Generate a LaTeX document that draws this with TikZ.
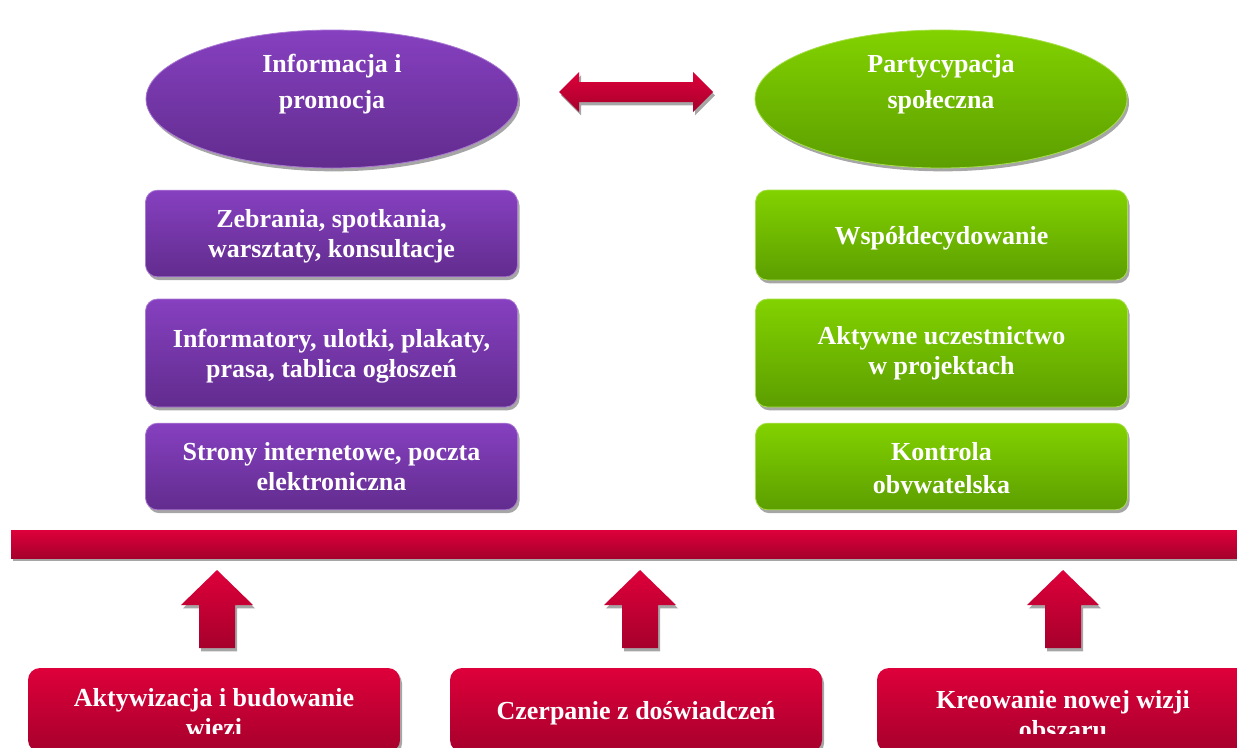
\documentclass[tikz,border=0pt]{standalone}
\usepackage{fontspec}
\setmainfont{Liberation Serif}
\usetikzlibrary{shapes.geometric,shadows}
\definecolor{violtop}{RGB}{134,64,192}
\definecolor{violbot}{RGB}{98,44,142}
\definecolor{leaftop}{RGB}{130,210,0}
\definecolor{leafbot}{RGB}{92,158,0}
\definecolor{redtop}{RGB}{222,0,58}
\definecolor{redbot}{RGB}{166,0,44}
\tikzset{
  cast/.style={general shadow={fill=black!35, shadow xshift=1.5pt, shadow yshift=-2.5pt}},
  violet/.style={top color=violtop, bottom color=violbot, draw=violtop!70!white, line width=.6pt},
  leaf/.style={top color=leaftop, bottom color=leafbot, draw=leaftop!70!white, line width=.6pt},
  crimson/.style={top color=redtop, bottom color=redbot},
  oval/.style={ellipse, cast, minimum width=279pt, minimum height=103.5pt, inner sep=0pt},
  tile/.style={rectangle, rounded corners=9pt, cast, minimum width=279pt, inner sep=0pt},
  lbl/.style={text=white, align=center, font=\bfseries\fontsize{19.5}{22.5}\selectfont},
  ovallbl/.style={lbl, font=\bfseries\fontsize{19.5}{27}\selectfont}
}
\begin{document}
\begin{tikzpicture}[x=.75pt, y=-.75pt]
  \useasboundingbox (0,0) rectangle (1237,747);
  \clip (0,0) rectangle (1237,747);

  \node[oval, violet] (info) at (332,99) {};
  \node[ovallbl] (infotxt) at (332,84) {Informacja i\\promocja};
  \node[oval, leaf] (part) at (941,99) {};
  \node[ovallbl] (parttxt) at (941,84) {Partycypacja\\społeczna};
  \coordinate (linkl) at (559,92);
  \coordinate (linkr) at (713,92);
  \path[crimson, cast] (linkl) -- ++(20,-20) -- ++(0,10) -- ++(114,0) -- ++(0,-10) -- (linkr)
    -- ++(-20,20) -- ++(0,-10) -- ++(-114,0) -- ++(0,10) -- cycle;

  \node[tile, violet, minimum height=65pt, lbl, text depth=0pt] (meet) at (331.5,233.5) {Zebrania, spotkania,\\warsztaty, konsultacje};
  \node[tile, violet, minimum height=81pt, lbl, text depth=0pt] (print) at (331.5,353) {Informatory, ulotki, plakaty,\\prasa, tablica ogłoszeń};
  \node[tile, violet, minimum height=65pt, lbl] (web) at (331.5,466.5) {Strony internetowe, poczta\\elektroniczna};

  \node[tile, leaf, minimum height=67.5pt, lbl, text height=18pt] (codec) at (941.5,235) {Współdecydowanie};
  \node[tile, leaf, minimum height=81pt, lbl] (proj) at (941.5,353) {Aktywne uczestnictwo\\w projektach};
  \node[tile, leaf, minimum height=65pt] (ctrl) at (941.5,466.5) {};
  \begin{scope}
    \clip (740,423) rectangle (1140,493);
    \node[lbl, font=\bfseries\fontsize{19.5}{25}\selectfont] (ctrltxt) at (941.5,471) {Kontrola\\obywatelska};
  \end{scope}

  \node[rectangle, crimson, cast, minimum width=929.25pt, minimum height=21pt, inner sep=0pt] (bar) at (630.5,544) {};

  \foreach \x/\n in {217/1, 640/2, 1063/3} {
    \coordinate (up\n) at (\x,570);
    \path[crimson, cast] (up\n) -- ++(36,35) -- ++(-18,0) -- ++(0,43) -- ++(-36,0)
      -- ++(0,-43) -- ++(-18,0) -- cycle;
  }

  \node[tile, crimson, minimum height=63pt] (act) at (214,710) {};
  \node[tile, crimson, minimum height=63pt] (draw) at (636,710) {};
  \node[tile, crimson, minimum height=63pt] (vis) at (1063,710) {};
  \begin{scope}
    \clip (0,600) rectangle (1237,733);
    \node[lbl] (acttxt) at (214,715) {Aktywizacja i budowanie\\więzi};
    \node[lbl] (drawtxt) at (636,713) {Czerpanie z doświadczeń};
    \node[lbl] (vistxt) at (1063,715) {Kreowanie nowej wizji\\obszaru};
  \end{scope}
\end{tikzpicture}
\end{document}
